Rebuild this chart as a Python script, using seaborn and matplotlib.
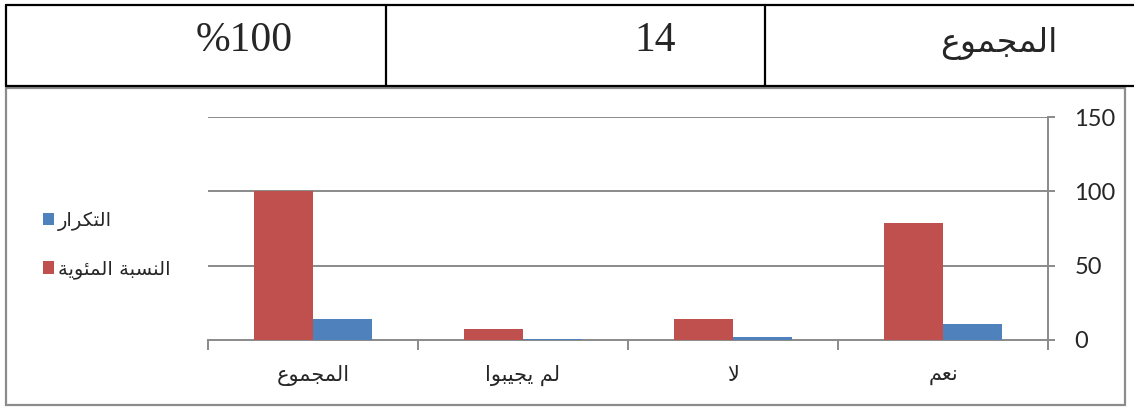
import matplotlib
matplotlib.use("Agg")
import matplotlib.pyplot as plt
import seaborn as sns
import pandas as pd
from matplotlib.lines import Line2D
from matplotlib.patches import Rectangle, Patch

# ---------------- data ----------------
categories = ["نعم", "لا", "لم يجيبوا", "المجموع"]
freq = [11, 2, 1, 14]
percent = [78.57, 14.29, 7.14, 100]
series_names = ["التكرار", "النسبة المئوية"]
yticks = [0, 50, 100, 150]
table_cells = ["المجموع", "14", "%100"]

RED = "#C0504D"
BLUE = "#4F81BD"
GRID = "#8A8A8A"

# ---------------- minimal Arabic shaping (visual order) ----------------
FORMS = {
    "ا": (0xFE8D, 0xFE8E, None, None),
    "ب": (0xFE8F, 0xFE90, 0xFE91, 0xFE92),
    "ة": (0xFE93, 0xFE94, None, None),
    "ت": (0xFE95, 0xFE96, 0xFE97, 0xFE98),
    "ج": (0xFE9D, 0xFE9E, 0xFE9F, 0xFEA0),
    "ر": (0xFEAD, 0xFEAE, None, None),
    "س": (0xFEB1, 0xFEB2, 0xFEB3, 0xFEB4),
    "ع": (0xFEC9, 0xFECA, 0xFECB, 0xFECC),
    "ك": (0xFED9, 0xFEDA, 0xFEDB, 0xFEDC),
    "ل": (0xFEDD, 0xFEDE, 0xFEDF, 0xFEE0),
    "م": (0xFEE1, 0xFEE2, 0xFEE3, 0xFEE4),
    "ن": (0xFEE5, 0xFEE6, 0xFEE7, 0xFEE8),
    "و": (0xFEED, 0xFEEE, None, None),
    "ي": (0xFEF1, 0xFEF2, 0xFEF3, 0xFEF4),
    "ئ": (0xFE89, 0xFE8A, 0xFE8B, 0xFE8C),
    "LA": (0xFEFB, 0xFEFC, None, None),
}


def shape(text):
    toks = []
    i = 0
    while i < len(text):
        if text[i] == "ل" and i + 1 < len(text) and text[i + 1] == "ا":
            toks.append("LA")
            i += 2
        else:
            toks.append(text[i])
            i += 1
    out = []
    for k, t in enumerate(toks):
        if t not in FORMS:
            out.append(t)
            continue
        f = FORMS[t]
        prev = toks[k - 1] if k > 0 else None
        nxt = toks[k + 1] if k + 1 < len(toks) else None
        jp = prev in FORMS and FORMS[prev][2] is not None
        jn = f[2] is not None and nxt in FORMS
        if jp and jn:
            c = f[3]
        elif jp:
            c = f[1]
        elif jn:
            c = f[2]
        else:
            c = f[0]
        out.append(chr(c))
    return "".join(out)[::-1]


# ---------------- figure ----------------
W, H = 1134, 407
fig = plt.figure(figsize=(W / 100, H / 100), dpi=100)
sns.set_style("white")
plt.rcParams["font.family"] = ["DejaVu Sans"]


def fx(px):
    return px / W


def fy(py):
    return 1 - py / H


# table row at top
lw_t = 1.6
fig.add_artist(Line2D([fx(6), 1.0], [fy(5), fy(5)], color="black", lw=lw_t, transform=fig.transFigure))
fig.add_artist(Line2D([fx(6), 1.0], [fy(86), fy(86)], color="black", lw=lw_t, transform=fig.transFigure))
for xv in [6, 386, 765]:
    fig.add_artist(Line2D([fx(xv), fx(xv)], [fy(5), fy(86)], color="black", lw=lw_t, transform=fig.transFigure))
fig.text(fx(1057), fy(43), shape(table_cells[0]), ha="right", va="center", fontsize=24,
         family=["DejaVu Sans"])
fig.text(fx(676), fy(41), table_cells[1], ha="right", va="center", fontsize=30,
         family=["Liberation Serif"])
fig.text(fx(293), fy(41), table_cells[2], ha="right", va="center", fontsize=30,
         family=["Liberation Serif"])

# chart box
fig.add_artist(Rectangle((fx(6), fy(405)), fx(1125) - fx(6), fy(88) - fy(405),
                         fill=False, edgecolor="#8C8C8C", lw=1.6, transform=fig.transFigure))

# axes
ax = fig.add_axes([fx(208), fy(340), fx(1048) - fx(208), fy(117) - fy(340)])

order = categories[::-1]
rows = []
for c, p, f in zip(categories, percent, freq):
    rows.append({"cat": c, "series": series_names[1], "value": p})
    rows.append({"cat": c, "series": series_names[0], "value": f})
df = pd.DataFrame(rows)

sns.barplot(data=df, x="cat", y="value", hue="series", order=order,
            hue_order=[series_names[1], series_names[0]], palette=[RED, BLUE],
            width=0.56, saturation=1, legend=False, ax=ax, edgecolor="none")
for p in ax.patches:
    p.set_zorder(4)

ax.set_ylim(0, 150)
ax.set_xlim(-0.5, len(order) - 0.5)
ax.set_yticks(yticks)
ax.yaxis.tick_right()
ax.set_xlabel("")
ax.set_ylabel("")
ax.grid(False)
for yv in yticks[1:]:
    ax.axhline(yv, color=GRID, lw=1.4, zorder=0)

for s in ["top", "left"]:
    ax.spines[s].set_visible(False)
for s in ["right", "bottom"]:
    ax.spines[s].set_color(GRID)
    ax.spines[s].set_linewidth(1.4)
    ax.spines[s].set_zorder(2)

ax.tick_params(axis="y", which="major", right=True, left=False, length=5, width=1.4,
               color=GRID, pad=14, labelsize=17)
for lab in ax.get_yticklabels():
    lab.set_family(["Lato", "DejaVu Sans"])

ax.set_xticks(range(len(order)))
ax.set_xticklabels([shape(c) for c in order], fontsize=15)
ax.tick_params(axis="x", which="major", length=0, pad=18)
ax.set_xticks([i - 0.5 for i in range(len(order) + 1)], minor=True)
ax.tick_params(axis="x", which="minor", length=7, width=1.4, color=GRID, bottom=True)

handles = [Patch(facecolor=BLUE, edgecolor="none"), Patch(facecolor=RED, edgecolor="none")]
labels = [shape(series_names[0]), shape(series_names[1])]
fig.legend(handles, labels, loc="center left", bbox_to_anchor=(fx(33), fy(245)),
           frameon=False, fontsize=14, handlelength=0.6, handleheight=0.6,
           handletextpad=0.2, labelspacing=1.45, borderpad=0)

fig.savefig("out.png", dpi=100)
